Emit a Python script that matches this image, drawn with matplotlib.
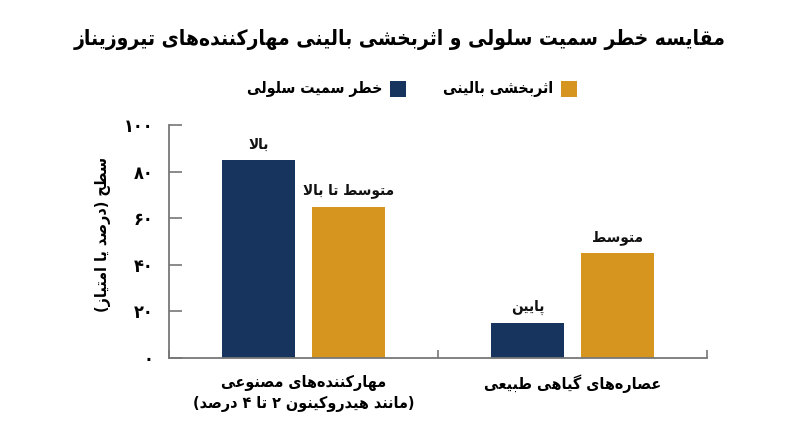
import matplotlib
matplotlib.use('Agg')
import matplotlib.pyplot as plt
from matplotlib.patches import Rectangle

# --- data ---
categories = ['مهارکننده‌های مصنوعی\n(مانند هیدروکینون ۲ تا ۴ درصد)', 'عصاره‌های گیاهی طبیعی']
series_names = ['خطر سمیت سلولی', 'اثربخشی بالینی']
toxicity = [85, 15]
efficacy = [65, 45]
toxicity_labels = ['بالا', 'پایین']
efficacy_labels = ['متوسط تا بالا', 'متوسط']
yticks = [0, 20, 40, 60, 80, 100]
title = 'مقایسه خطر سمیت سلولی و اثربخشی بالینی مهارکننده‌های تیروزیناز'
ylabel = 'سطح (درصد یا امتیاز)'

blue = '#17345f'
gold = '#d6951e'
gray = '#777777'

# --- simple persian shaping (matplotlib does no arabic shaping) ---
# isolated, final, initial, medial
FORMS = {
    'ا': (0xFE8D, 0xFE8E, None, None), 'آ': (0xFE81, 0xFE82, None, None),
    'ب': (0xFE8F, 0xFE90, 0xFE91, 0xFE92), 'پ': (0xFB56, 0xFB57, 0xFB58, 0xFB59),
    'ت': (0xFE95, 0xFE96, 0xFE97, 0xFE98), 'ث': (0xFE99, 0xFE9A, 0xFE9B, 0xFE9C),
    'ج': (0xFE9D, 0xFE9E, 0xFE9F, 0xFEA0), 'چ': (0xFB7A, 0xFB7B, 0xFB7C, 0xFB7D),
    'ح': (0xFEA1, 0xFEA2, 0xFEA3, 0xFEA4), 'خ': (0xFEA5, 0xFEA6, 0xFEA7, 0xFEA8),
    'د': (0xFEA9, 0xFEAA, None, None), 'ذ': (0xFEAB, 0xFEAC, None, None),
    'ر': (0xFEAD, 0xFEAE, None, None), 'ز': (0xFEAF, 0xFEB0, None, None),
    'ژ': (0xFB8A, 0xFB8B, None, None),
    'س': (0xFEB1, 0xFEB2, 0xFEB3, 0xFEB4), 'ش': (0xFEB5, 0xFEB6, 0xFEB7, 0xFEB8),
    'ص': (0xFEB9, 0xFEBA, 0xFEBB, 0xFEBC), 'ض': (0xFEBD, 0xFEBE, 0xFEBF, 0xFEC0),
    'ط': (0xFEC1, 0xFEC2, 0xFEC3, 0xFEC4), 'ظ': (0xFEC5, 0xFEC6, 0xFEC7, 0xFEC8),
    'ع': (0xFEC9, 0xFECA, 0xFECB, 0xFECC), 'غ': (0xFECD, 0xFECE, 0xFECF, 0xFED0),
    'ف': (0xFED1, 0xFED2, 0xFED3, 0xFED4), 'ق': (0xFED5, 0xFED6, 0xFED7, 0xFED8),
    'ک': (0xFB8E, 0xFB8F, 0xFB90, 0xFB91), 'گ': (0xFB92, 0xFB93, 0xFB94, 0xFB95),
    'ل': (0xFEDD, 0xFEDE, 0xFEDF, 0xFEE0), 'م': (0xFEE1, 0xFEE2, 0xFEE3, 0xFEE4),
    'ن': (0xFEE5, 0xFEE6, 0xFEE7, 0xFEE8), 'و': (0xFEED, 0xFEEE, None, None),
    'ه': (0xFEE9, 0xFEEA, 0xFEEB, 0xFEEC), 'ی': (0xFBFC, 0xFBFD, 0xFBFE, 0xFBFF),
    'ي': (0xFEF1, 0xFEF2, 0xFEF3, 0xFEF4),
}
DIGITS = set('0123456789۰۱۲۳۴۵۶۷۸۹')
MIRROR = {'(': ')', ')': '('}


def dual(c):
    return c in FORMS and FORMS[c][2] is not None


def shape_line(s):
    out = []
    i = 0
    n = len(s)
    while i < n:
        c = s[i]
        if c not in FORMS:
            if c != '\u200c':
                out.append(c)
            i += 1
            continue
        prev_join = i > 0 and dual(s[i - 1])
        if c == 'ل' and i + 1 < n and s[i + 1] in 'اآ':
            out.append(chr(0xFEFC if prev_join else 0xFEFB))
            i += 2
            continue
        next_join = dual(c) and i + 1 < n and s[i + 1] in FORMS
        f = FORMS[c]
        if prev_join and next_join:
            out.append(chr(f[3]))
        elif prev_join:
            out.append(chr(f[1]))
        elif next_join:
            out.append(chr(f[2]))
        else:
            out.append(chr(f[0]))
        i += 1
    # visual order: reverse, keep digit runs left-to-right
    tokens = []
    for ch in out:
        if tokens and (ch in DIGITS) == (tokens[-1][0] in DIGITS):
            tokens[-1] += ch
        else:
            tokens.append(ch)
    vis = ''
    for t in reversed(tokens):
        if t[0] in DIGITS:
            vis += t
        else:
            vis += ''.join(MIRROR.get(ch, ch) for ch in reversed(t))
    return vis


def fa(s):
    return '\n'.join(shape_line(l) for l in s.split('\n'))


def fa_num(v):
    return ''.join('۰۱۲۳۴۵۶۷۸۹'[int(d)] for d in str(v))


plt.rcParams['font.family'] = ['DejaVu Sans']
plt.rcParams['font.weight'] = 'bold'
plt.rcParams['font.stretch'] = 'condensed'

W, H = 800, 447
fig = plt.figure(figsize=(8, 4.47), dpi=100)
ax = fig.add_axes([169 / W, 1 - 358 / H, (707 - 169) / W, (358 - 125) / H])

x = [0, 1]
width = 0.27
off = 0.167
b1 = ax.bar([i - off for i in x], toxicity, width, color=blue)
b2 = ax.bar([i + off for i in x], efficacy, width, color=gold)

for bars, labs in [(b1, toxicity_labels), (b2, efficacy_labels)]:
    for rect, lab in zip(bars, labs):
        ax.annotate(fa(lab), (rect.get_x() + rect.get_width() / 2, rect.get_height()),
                    xytext=(0, 6), textcoords='offset points', ha='center', va='bottom',
                    fontsize=11, fontweight='bold', color='#111111')

ax.set_xlim(-0.5, 1.5)
ax.set_ylim(0, 100)
ax.set_yticks(yticks)
ax.set_yticklabels([fa_num(v) for v in yticks], fontsize=13, fontweight='bold')
ax.set_xticks(x)
ax.set_xticklabels([fa(c) for c in categories], fontsize=11.5, fontweight='bold', linespacing=1.45)
ax.set_xticks([-0.5, 0.5, 1.5], minor=True)
ax.tick_params(axis='x', which='major', length=0, pad=12)
ax.tick_params(axis='x', which='minor', direction='in', length=6, width=1.2, color=gray)
ax.tick_params(axis='y', direction='in', length=9, width=1.2, color=gray, pad=11)

for s in ['top', 'right']:
    ax.spines[s].set_visible(False)
for s in ['left', 'bottom']:
    ax.spines[s].set_color(gray)
    ax.spines[s].set_linewidth(1.3)

fig.text(103 / W, 1 - 234 / H, fa(ylabel), rotation=90, ha='center', va='center',
         fontsize=11.5, fontweight='bold')
fig.text(0.5, 1 - 40 / H, fa(title), ha='center', va='center', fontsize=15, fontweight='bold')

# legend drawn by hand (right-to-left order)
for (sq_x, txt_right), name, col in [((561, 553), series_names[1], gold), ((390, 382), series_names[0], blue)]:
    fig.patches.append(Rectangle((sq_x / W, 1 - 97 / H), 16 / W, 16 / H, transform=fig.transFigure,
                                 facecolor=col, edgecolor='none'))
    fig.text(txt_right / W, 1 - 89 / H, fa(name), ha='right', va='center', fontsize=11.3, fontweight='bold')

fig.savefig('out.png', dpi=100)
